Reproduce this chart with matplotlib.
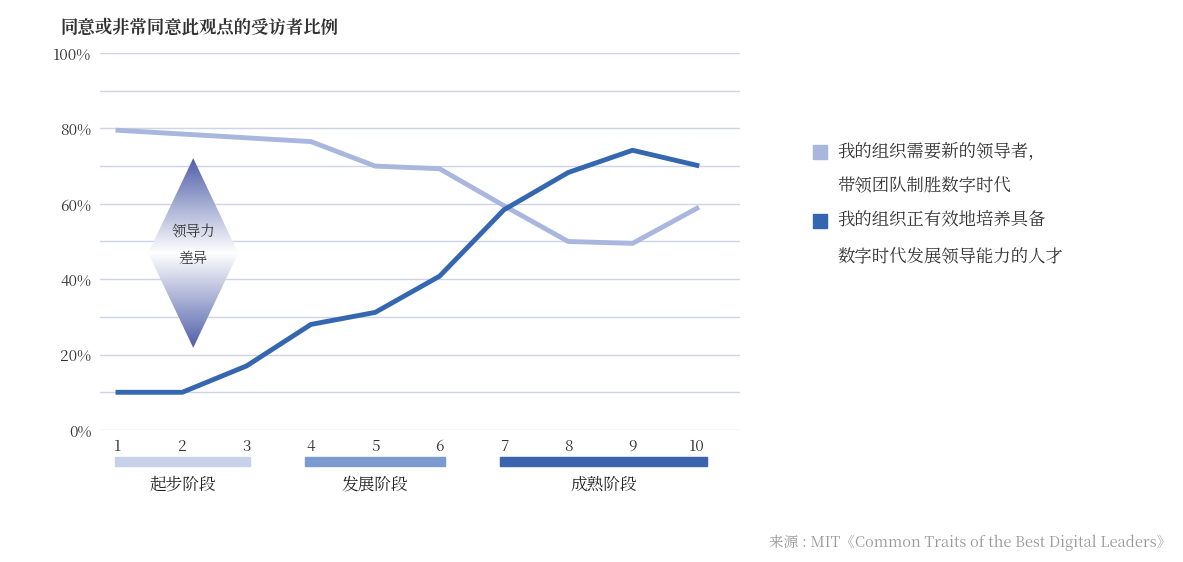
import matplotlib
matplotlib.use("Agg")
import matplotlib.pyplot as plt
from matplotlib import font_manager
import numpy as np
from matplotlib.patches import Polygon, Rectangle
from matplotlib.colors import LinearSegmentedColormap

cjk = None
for f in font_manager.fontManager.ttflist:
    if "CJK" in f.name and ("SC" in f.name or cjk is None):
        cjk = f.name
        if "SC" in f.name:
            break
if cjk is None:
    import glob
    files = glob.glob("/usr/share/fonts/**/*CJK*", recursive=True)
    for p in files:
        font_manager.fontManager.addfont(p)
    cjk = font_manager.FontProperties(fname=files[0]).get_name() if files else "DejaVu Sans"
plt.rcParams["font.family"] = [cjk, "DejaVu Sans"]

x = list(range(1, 11))
need_leader = [79.5, 78.5, 77.5, 76.5, 70.0, 69.3, 59.5, 50.0, 49.5, 58.8]
develop = [10, 10, 17, 28, 31.2, 40.8, 58.4, 68.3, 74.2, 70.2]
stages = ["起步阶段", "发展阶段", "成熟阶段"]
stage_ranges = [(0.95, 3.05), (3.9, 6.08), (6.94, 10.16)]
stage_colors = ["#c7d2ea", "#7b9bd0", "#3a64ad"]
yticks = [0, 20, 40, 60, 80, 100]

fig = plt.figure(figsize=(11.83, 5.62), dpi=100)
ax = fig.add_axes([0.0845, 0.2349, 0.541, 0.6708])
ax.set_xlim(0.72, 10.67)
ax.set_ylim(0, 100)
for v in range(0, 101, 10):
    ax.axhline(v, color="#cdd3ea", lw=1, zorder=0)
for s in ax.spines.values():
    s.set_visible(False)
ax.set_yticks(yticks)
ax.set_yticklabels([f"{v}%" for v in yticks], fontsize=11, color="#333333")
ax.set_xticks(x)
ax.set_xticklabels([str(v) for v in x], fontsize=11, color="#333333")
ax.tick_params(length=0, pad=6)

ax.plot(x, need_leader, color="#a9b6de", lw=3.5, zorder=3)
ax.plot(x, develop, color="#3567b0", lw=3.5, zorder=3)

# gradient diamond
cx, hw, ytop, ybot, ymid = 2.17, 0.7, 72.1, 21.8, 46.9
cmap = LinearSegmentedColormap.from_list("g", ["#4f5fa8", "#ffffff", "#4f5fa8"])
grad = np.linspace(0, 1, 256).reshape(-1, 1)
im = ax.imshow(grad, cmap=cmap, extent=[cx - hw, cx + hw, ybot, ytop], aspect="auto", zorder=2, origin="lower")
poly = Polygon([(cx, ytop), (cx + hw, ymid), (cx, ybot), (cx - hw, ymid)], transform=ax.transData, facecolor="none", edgecolor="none")
ax.add_patch(poly)
im.set_clip_path(poly)
ax.text(cx, ymid + 2, "领导力\n差异", ha="center", va="center", fontsize=10.5, color="#333333", linespacing=1.8, zorder=4)

trans = ax.get_xaxis_transform()
for name, (a, b), c in zip(stages, stage_ranges, stage_colors):
    ax.add_patch(Rectangle((a, -0.095), b - a, 0.023, transform=trans, color=c, clip_on=False))
    ax.text((a + b) / 2, -0.146, name, transform=trans, ha="center", va="center", fontsize=12, color="#222222")

fig.text(0.051, 0.95, "同意或非常同意此观点的受访者比例", fontsize=12.5, color="#333333", va="center", fontweight="bold")

# legend
fig.add_artist(Rectangle((0.687, 0.717), 0.012, 0.025, transform=fig.transFigure, color="#a9b6de"))
fig.text(0.708, 0.73, "我的组织需要新的领导者，", fontsize=12.5, color="#333333", va="center")
fig.text(0.708, 0.668, "带领团队制胜数字时代", fontsize=12.5, color="#333333", va="center")
fig.add_artist(Rectangle((0.687, 0.595), 0.012, 0.025, transform=fig.transFigure, color="#3567b0"))
fig.text(0.708, 0.607, "我的组织正有效地培养具备", fontsize=12.5, color="#333333", va="center")
fig.text(0.708, 0.543, "数字时代发展领导能力的人才", fontsize=12.5, color="#333333", va="center")

fig.text(0.99, 0.02, "来源 : MIT《Common Traits of the Best Digital Leaders》", fontsize=10.5, color="#999999", ha="right", va="bottom")

fig.savefig("out.png", dpi=100, facecolor="white")
